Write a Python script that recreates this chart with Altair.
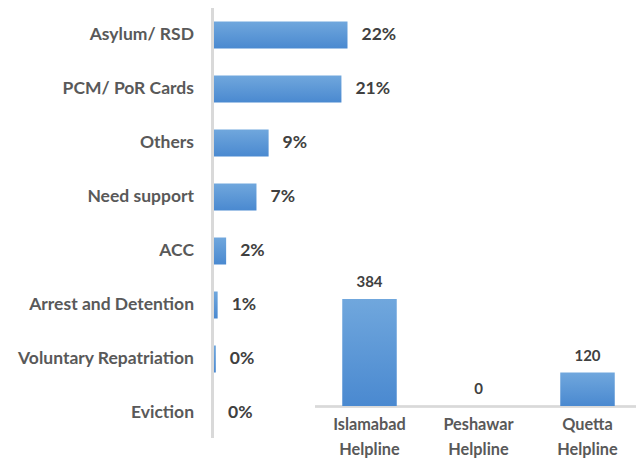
import altair as alt
import pandas as pd

# ---- data ----
categories = ["Asylum/ RSD", "PCM/ PoR Cards", "Others", "Need support ",
              "ACC", "Arrest and Detention", "Voluntary Repatriation", "Eviction"]
shares = [22, 21, 9, 7, 2, 0.6, 0.3, 0.0]
share_labels = ["22%", "21%", "9%", "7%", "2%", "1%", "0%", "0%"]

helplines = ["Islamabad\nHelpline", "Peshawar\nHelpline", "Quetta\nHelpline"]
calls = [384, 0, 120]

left = pd.DataFrame({"cat": categories, "share": shares, "lab": share_labels})
right = pd.DataFrame({"line": helplines, "calls": calls})

FONT = "Lato"
grad_v = alt.Gradient(gradient="linear",
                      stops=[alt.GradientStop(color="#70a7dd", offset=0),
                             alt.GradientStop(color="#4a89d0", offset=1)],
                      x1=0, x2=0, y1=0, y2=1)

yL = alt.Y("cat:N", sort=categories, axis=None,
           scale=alt.Scale(range=[0, 432], paddingInner=0.5, paddingOuter=0.25))
xL = alt.X("share:Q", axis=None, scale=alt.Scale(domain=[0, 22], range=[206, 339.5]))

bars_left = alt.Chart(left).mark_bar(color=grad_v).encode(y=yL, x=xL, x2=alt.datum(0))
cat_text = alt.Chart(left).mark_text(align="right", baseline="middle", font=FONT,
                                     fontSize=17.5, fontWeight="bold", color="#595959").encode(
    y=yL, x=alt.value(186), text="cat:N")
pct_text = alt.Chart(left).mark_text(align="left", baseline="middle", dx=14, font=FONT,
                                     fontSize=17.5, fontWeight="bold", color="#404040").encode(
    y=yL, x=xL, text="lab:N")
axis_left = alt.Chart(left).mark_rule(color="#d9d9d9", strokeWidth=3).encode(
    x=alt.value(204.5), y=alt.value(0), y2=alt.value(430))

xR = alt.X("line:N", sort=helplines, axis=None,
           scale=alt.Scale(range=[307, 634], paddingInner=0.5, paddingOuter=0.25))
yR = alt.Y("calls:Q", axis=None, scale=alt.Scale(domain=[0, 384], range=[398, 291]))

bars_right = alt.Chart(right).mark_bar(color=grad_v).encode(x=xR, y=yR, y2=alt.datum(0))
val_text = alt.Chart(right).mark_text(baseline="middle", dy=-17, font=FONT,
                                      fontSize=15, fontWeight="bold", color="#404040").encode(
    x=xR, y=yR, text="calls:Q")
line_text = alt.Chart(right).mark_text(baseline="middle", lineBreak="\n", lineHeight=25,
                                       font=FONT, fontSize=16.3, fontWeight="bold",
                                       color="#595959").encode(
    x=xR, y=alt.value(417), text="line:N")
base_right = alt.Chart(right).mark_rule(color="#d9d9d9", strokeWidth=2).encode(
    x=alt.value(307), x2=alt.value(634), y=alt.value(398.5))

chart = alt.layer(axis_left, base_right, bars_left, cat_text, pct_text,
                  bars_right, val_text, line_text).resolve_scale(
    x="independent", y="independent").properties(
    width=628, height=451, padding=0,
    autosize=alt.AutoSizeParams(type="none")
).configure_view(stroke=None)

chart.save("out.html", embed_options={"renderer": "svg", "actions": False})
